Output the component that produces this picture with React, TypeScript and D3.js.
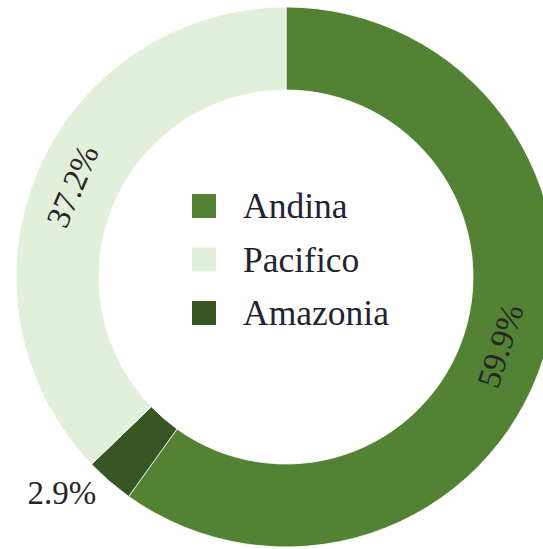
import React from "react";
import * as d3 from "d3";

const categories = ["Andina", "Pacifico", "Amazonia"];
const values = [59.9, 37.2, 2.9];
const colors = ["#548235", "#e2efda", "#375623"];
const sliceOrder = ["Andina", "Amazonia", "Pacifico"];
const labels = ["59.9%", "37.2%", "2.9%"];

const W = 543;
const H = 549;
const cx = 286;
const cy = 277;
const outerR = 270;
const innerR = 187;
const FONT = "'Liberation Serif', serif";

type Datum = { name: string; value: number; color: string; label: string };

export default function App() {
  const data: Datum[] = sliceOrder.map((n) => {
    const i = categories.indexOf(n);
    return { name: n, value: values[i], color: colors[i], label: labels[i] };
  });
  const pie = d3.pie<Datum>().sort(null).value((d) => d.value);
  const arcs = pie(data);
  const arc = d3.arc<d3.PieArcDatum<Datum>>().innerRadius(innerR).outerRadius(outerR);
  const labelR = (innerR + outerR) / 2;

  return (
    <svg
      width={W}
      height={H}
      style={{ position: "absolute", left: 0, top: 0, display: "block" }}
    >
      <rect width={W} height={H} fill="#ffffff" />
      <g transform={`translate(${cx},${cy})`}>
        {arcs.map((a) => (
          <path key={a.data.name} d={arc(a) || ""} fill={a.data.color} stroke="#ffffff" strokeWidth={0.8} />
        ))}
        {arcs.map((a) => {
          const mid = (a.startAngle + a.endAngle) / 2;
          const deg = (mid * 180) / Math.PI;
          const small = a.endAngle - a.startAngle < 0.2;
          if (small) {
            const r = 290;
            const x = r * Math.sin(mid);
            const y = -r * Math.cos(mid);
            return (
              <text
                key={a.data.name + "l"}
                x={x}
                y={y}
                textAnchor="end"
                dominantBaseline="middle"
                fontFamily={FONT}
                fontSize={33}
                fill="#262626"
              >
                {a.data.label}
              </text>
            );
          }
          const x = labelR * Math.sin(mid);
          const y = -labelR * Math.cos(mid);
          const rot = deg < 180 ? deg - 180 : deg - 360;
          return (
            <text
              key={a.data.name + "l"}
              transform={`translate(${x},${y}) rotate(${rot})`}
              textAnchor="middle"
              dominantBaseline="middle"
              fontFamily={FONT}
              fontSize={33}
              fill="#262626"
            >
              {a.data.label}
            </text>
          );
        })}
      </g>
      <g>
        {categories.map((c, i) => (
          <g key={c} transform={`translate(192,${194 + i * 53.5})`}>
            <rect width={24} height={24} fill={colors[i]} />
            <text x={51} y={24} fontFamily={FONT} fontSize={35.5} fill="#1f2430">
              {c}
            </text>
          </g>
        ))}
      </g>
    </svg>
  );
}
